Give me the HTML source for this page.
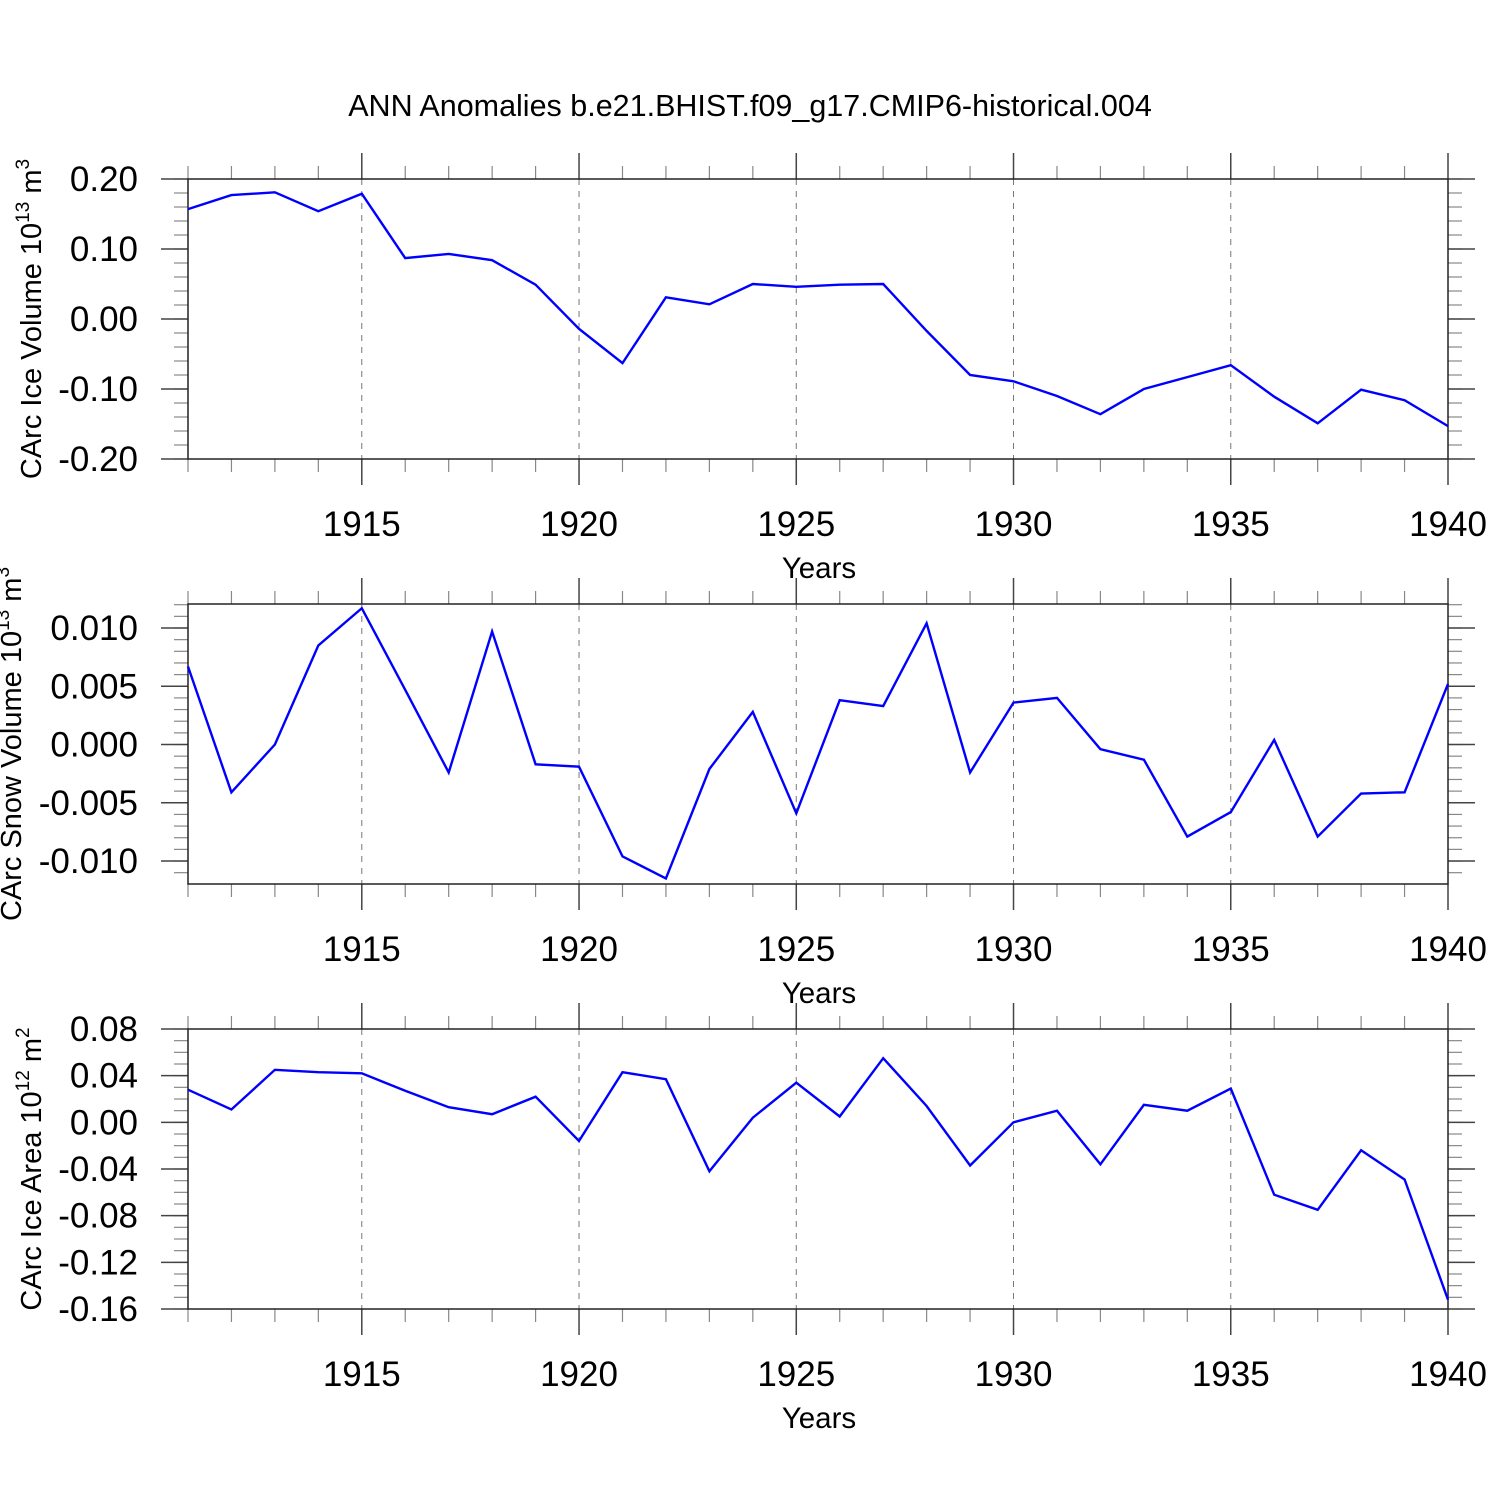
<!DOCTYPE html>
<html><head><meta charset="utf-8"><style>
body{margin:0;background:#fff}
svg{display:block;font-family:"Liberation Sans",sans-serif}
</style></head><body>
<svg id="chart" width="1500" height="1500" viewBox="0 0 1500 1500">
<rect width="1500" height="1500" fill="#fff"/>
<text x="750" y="116" font-size="30.5" text-anchor="middle">ANN Anomalies b.e21.BHIST.f09_g17.CMIP6-historical.004</text>
</svg>
<script>
const years = [1911,1912,1913,1914,1915,1916,1917,1918,1919,1920,1921,1922,1923,1924,1925,1926,1927,1928,1929,1930,1931,1932,1933,1934,1935,1936,1937,1938,1939,1940];
const iceVolume = [0.157,0.177,0.181,0.154,0.179,0.087,0.093,0.084,0.049,-0.014,-0.063,0.031,0.021,0.050,0.046,0.049,0.050,-0.017,-0.080,-0.089,-0.110,-0.136,-0.100,-0.083,-0.066,-0.111,-0.149,-0.101,-0.116,-0.153];
const snowVolume = [0.0067,-0.0041,0.0000,0.0085,0.0117,0.0047,-0.0024,0.0097,-0.0017,-0.0019,-0.0096,-0.0115,-0.0021,0.0028,-0.0059,0.0038,0.0033,0.0104,-0.0024,0.0036,0.0040,-0.0004,-0.0013,-0.0079,-0.0058,0.0004,-0.0079,-0.0042,-0.0041,0.0052];
const iceArea = [0.028,0.011,0.045,0.043,0.042,0.027,0.013,0.007,0.022,-0.016,0.043,0.037,-0.042,0.004,0.034,0.005,0.055,0.014,-0.037,0.000,0.010,-0.036,0.015,0.010,0.029,-0.062,-0.075,-0.024,-0.049,-0.152];
const xTickYears = [1915,1920,1925,1930,1935,1940];
const iceVolTicks = ["0.20","0.10","0.00","-0.10","-0.20"];
const snowTicks = ["0.010","0.005","0.000","-0.005","-0.010"];
const areaTicks = ["0.08","0.04","0.00","-0.04","-0.08","-0.12","-0.16"];

const NS="http://www.w3.org/2000/svg";
const svg=document.getElementById('chart');
function mk(tag,attrs,parent){const e=document.createElementNS(NS,tag);for(const k in attrs)e.setAttribute(k,attrs[k]);(parent||svg).appendChild(e);return e;}
const X0=188,X1=1448,xMin=1911,xMax=1940;
function xs(v){return X0+(v-xMin)/(xMax-xMin)*(X1-X0);}

const panels=[
 {name:'ice-volume',top:179,bot:459,yMin:-0.2,yMax:0.2,ticks:iceVolTicks,minor:0.02,data:iceVolume,title:['CArc Ice Volume 10','13',' m','3'],tx:42},
 {name:'snow-volume',top:604,bot:884,yMin:-0.011971,yMax:0.012060,ticks:snowTicks,minor:0.001,data:snowVolume,title:['CArc Snow Volume 10','13',' m','3'],tx:22},
 {name:'ice-area',top:1029,bot:1309,yMin:-0.16,yMax:0.08,ticks:areaTicks,minor:0.01,data:iceArea,title:['CArc Ice Area 10','12',' m','2'],tx:42}
];
panels.forEach(p=>{
 const g=mk('g',{});
 
 
 const ys=v=>p.bot-(v-p.yMin)/(p.yMax-p.yMin)*(p.bot-p.top);
 xTickYears.forEach(y=>{ if(y<xMax){const l=mk('line',{x1:xs(y),x2:xs(y),y1:p.top,y2:p.bot,stroke:'#777','stroke-width':1,'stroke-dasharray':'6,6'},g);
  }});
 years.forEach(y=>{ if(!xTickYears.includes(y)){
  mk('line',{x1:xs(y),x2:xs(y),y1:p.top-13,y2:p.top,stroke:'#888','stroke-width':1.2},g);
  mk('line',{x1:xs(y),x2:xs(y),y1:p.bot,y2:p.bot+13,stroke:'#888','stroke-width':1.2},g);}});
 xTickYears.forEach(y=>{
  mk('line',{x1:xs(y),x2:xs(y),y1:p.top-26,y2:p.top,stroke:'#444','stroke-width':1.5},g);
  mk('line',{x1:xs(y),x2:xs(y),y1:p.bot,y2:p.bot+26,stroke:'#444','stroke-width':1.5},g);
  const t=mk('text',{x:xs(y),y:p.bot+77,'font-size':35,'text-anchor':'middle'},g);
  t.textContent=y;
  
 });
 const start=Math.ceil(p.yMin/p.minor-1e-6);
 for(let i=start;i*p.minor<=p.yMax+1e-9;i++){
  const yy=ys(i*p.minor);
  mk('line',{x1:X0-14,x2:X0,y1:yy,y2:yy,stroke:'#888','stroke-width':1.2},g);
  mk('line',{x1:X1,x2:X1+14,y1:yy,y2:yy,stroke:'#888','stroke-width':1.2},g);
 }
 p.ticks.forEach(s=>{
  const yy=ys(parseFloat(s));
  mk('line',{x1:X0-27,x2:X0,y1:yy,y2:yy,stroke:'#444','stroke-width':1.5},g);
  mk('line',{x1:X1,x2:X1+27,y1:yy,y2:yy,stroke:'#444','stroke-width':1.5},g);
  const t=mk('text',{x:X0-50,y:yy+12,'font-size':35,'text-anchor':'end'},g);
  t.textContent=s;
  
 });
 const fr=mk('rect',{x:X0,y:p.top,width:X1-X0,height:p.bot-p.top,fill:'none',stroke:'#222','stroke-width':1.5},g);
 
 const pts=p.data.map((v,i)=>xs(years[i]).toFixed(1)+','+ys(v).toFixed(1)).join(' ');
 const pl=mk('polyline',{points:pts,fill:'none',stroke:'#0000ff','stroke-width':2.4,'stroke-linejoin':'miter'},g);
 
 const xt=mk('text',{x:819,y:p.bot+119,'font-size':29.5,'text-anchor':'middle'},g);
 xt.textContent='Years';
 
 const cy=(p.top+p.bot)/2;
 const yt=mk('text',{x:0,y:0,'font-size':29,'text-anchor':'middle',transform:`translate(${p.tx-1},${cy}) rotate(-90)`},g);
 
 const [a,b,c,d]=p.title;
 const s1=mk('tspan',{},yt);s1.textContent=a;
 const s2=mk('tspan',{dy:-12,'font-size':19},yt);s2.textContent=b;
 const s3=mk('tspan',{dy:12},yt);s3.textContent=c;
 const s4=mk('tspan',{dy:-12,'font-size':19},yt);s4.textContent=d;
});
</script>
</body></html>
